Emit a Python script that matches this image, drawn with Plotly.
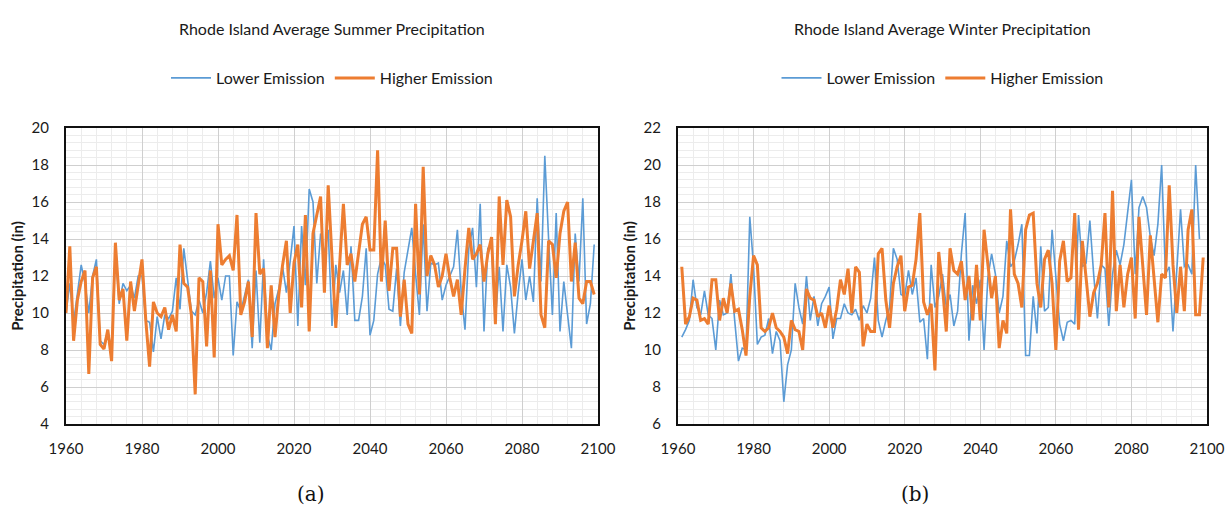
import plotly.graph_objects as go

# ---------------- data ----------------
summer_years = list(range(1960, 2100))
summer_lower = [
    10.0, 11.6, 9.5, 11.0, 12.6, 11.6, 10.0, 12.0, 12.9, 8.5,
    8.3, 9.0, 8.0, 13.4, 10.5, 11.6, 11.2, 11.5, 10.8, 12.0,
    12.0, 9.6, 9.5, 7.9, 9.8, 8.6, 9.9, 9.7, 10.1, 11.9,
    10.2, 13.5, 11.7, 10.1, 9.9, 10.7, 10.0, 11.1, 12.8, 10.8,
    11.9, 10.7, 12.0, 12.0, 7.7, 10.6, 10.1, 11.0, 11.8, 8.1,
    12.3, 8.4, 12.9, 8.8, 8.0, 10.5, 11.3, 12.5, 11.1, 12.8,
    14.7, 9.3, 14.7, 11.5, 16.7, 16.0, 11.6, 14.3, 13.2, 14.5,
    9.3, 12.6, 11.1, 12.3, 9.9, 13.6, 9.6, 9.6, 10.9, 13.5,
    8.8, 9.6, 12.1, 13.0, 12.6, 10.2, 10.1, 12.4, 9.3, 12.2,
    13.4, 14.6, 12.1, 9.9, 14.8, 10.1, 12.7, 12.6, 12.7, 10.7,
    11.5, 12.0, 12.5, 14.5, 11.1, 9.1, 13.5, 14.6, 11.4, 15.9,
    9.0, 13.5, 13.6, 9.6, 12.5, 9.0, 12.6, 11.4, 8.9, 11.1,
    12.9, 10.7, 12.0, 10.6, 16.2, 11.7, 18.5, 14.0, 9.9, 15.4,
    9.0, 11.7, 9.9, 8.1, 14.3, 11.7, 16.2, 9.4, 10.5, 13.7,
]
summer_higher = [
    10.0, 13.6, 8.5, 10.7, 11.7, 12.3, 6.7, 11.9, 12.5, 8.3,
    8.05, 9.1, 7.4, 13.8, 10.7, 11.3, 8.5, 11.7, 10.1, 11.4,
    12.9, 9.6, 7.1, 10.6, 10.0, 9.8, 10.3, 9.1, 9.9, 9.0,
    13.7, 11.6, 11.4, 9.9, 5.6, 11.9, 11.7, 8.2, 12.3, 7.6,
    14.8, 12.6, 12.9, 13.1, 12.3, 15.3, 9.9, 10.6, 11.7, 8.7,
    15.4, 12.1, 12.4, 8.1, 11.5, 8.7, 11.0, 12.6, 13.9, 10.0,
    12.7, 13.7, 10.3, 15.3, 9.0, 14.3, 15.3, 16.3, 11.1, 16.9,
    13.0, 9.2, 12.6, 15.9, 12.6, 13.2, 11.7, 13.3, 14.8, 15.2,
    13.4, 13.4, 18.8, 11.7, 15.0, 11.2, 13.5, 13.5, 9.8, 11.8,
    9.4, 8.9, 15.9, 11.0, 17.9, 12.0, 13.1, 12.6, 11.4, 12.0,
    13.2, 11.9, 10.9, 11.8, 9.9, 12.4, 14.6, 12.9, 13.2, 13.7,
    11.7, 13.2, 14.1, 9.4, 16.3, 12.6, 16.1, 15.2, 10.9, 12.6,
    13.9, 15.5, 12.4, 13.9, 15.4, 9.9, 9.2, 13.9, 13.7, 11.9,
    14.3, 15.5, 16.0, 11.7, 13.8, 10.8, 10.5, 11.7, 11.7, 11.0,
]

winter_years_lower = list(range(1961, 2099))
winter_lower = [
    10.7, 11.1, 11.6, 13.8, 12.3, 11.9, 13.2, 11.9, 11.7,
    10.0, 12.7, 11.9, 12.0, 14.1, 11.6, 9.4, 10.1, 10.0, 17.2,
    14.5, 10.3, 10.7, 10.8, 11.7, 9.8, 11.0, 10.5, 7.2, 9.2,
    10.0, 13.6, 12.3, 11.4, 14.0, 11.6, 12.9, 11.3, 12.5, 12.9,
    13.4, 10.6, 11.7, 11.7, 12.5, 12.0, 11.9, 12.2, 11.6, 12.4,
    12.0, 12.8, 15.0, 11.6, 10.7, 11.6, 12.3, 15.5, 14.9, 13.0,
    12.9, 14.3, 13.0, 13.9, 11.5, 11.7, 9.5, 14.6, 12.3, 12.9,
    14.1, 12.3, 13.0, 11.3, 12.1, 15.2, 17.4, 10.5, 13.5, 12.5,
    13.8, 10.0, 13.9, 15.2, 14.1, 12.0, 12.9, 15.9, 14.5, 14.8,
    15.7, 16.8, 9.7, 9.7, 12.9, 10.9, 15.6, 12.1, 12.3, 16.5,
    14.1, 11.4, 10.5, 11.5, 11.6, 11.4, 17.3, 14.5, 14.7, 17.0,
    14.1, 11.7, 14.6, 14.4, 11.3, 14.1, 15.4, 14.6, 15.7, 17.4,
    19.2, 14.1, 17.7, 18.3, 17.7, 16.1, 15.1, 16.8, 20.0, 14.1,
    14.5, 11.0, 14.5, 17.6, 14.5, 14.6, 14.1, 20.0, 16.0,
]
winter_years_higher = list(range(1961, 2100))
winter_higher = [
    14.5, 11.4, 11.8, 12.8, 12.7, 11.6, 11.7, 11.4, 13.8,
    13.8, 11.6, 12.8, 12.0, 13.6, 12.1, 12.2, 11.1, 9.7, 12.9,
    15.1, 14.6, 11.2, 11.0, 11.2, 12.0, 11.2, 11.0, 10.7, 9.8,
    11.6, 11.1, 11.0, 10.0, 13.3, 12.8, 12.7, 11.8, 12.0, 11.2,
    12.4, 11.2, 12.2, 13.8, 13.0, 14.4, 12.0, 14.5, 14.2, 10.2,
    11.4, 11.0, 11.0, 15.2, 15.5, 12.7, 11.2, 13.6, 14.5, 15.1,
    12.1, 13.4, 13.5, 14.9, 17.4, 12.6, 11.9, 12.5, 8.9, 15.3,
    13.4, 11.0, 15.5, 14.3, 14.1, 14.8, 12.7, 14.0, 11.6, 14.6,
    11.6, 16.5, 14.6, 12.8, 14.0, 10.1, 11.6, 10.9, 17.6, 14.1,
    13.6, 12.3, 16.5, 17.3, 17.4, 13.6, 12.3, 14.9, 15.4, 13.6,
    10.0, 14.8, 15.9, 13.7, 13.9, 17.4, 11.1, 15.9, 13.9, 11.8,
    13.1, 13.6, 14.6, 17.4, 12.3, 18.6, 12.1, 14.6, 12.3, 14.1,
    15.0, 11.7, 17.2, 14.3, 11.9, 16.2, 13.8, 11.5, 14.1, 13.9,
    18.9, 14.6, 12.0, 14.5, 12.1, 16.5, 17.6, 11.9, 11.9, 15.0,
]

x_ticks = [1960, 1980, 2000, 2020, 2040, 2060, 2080, 2100]
summer_y_ticks = [4, 6, 8, 10, 12, 14, 16, 18, 20]
winter_y_ticks = [6, 8, 10, 12, 14, 16, 18, 20, 22]
titles = ["Rhode Island Average Summer Precipitation",
          "Rhode Island Average Winter Precipitation"]
captions = ["(a)", "(b)"]
series_names = ["Lower Emission", "Higher Emission"]

# ---------------- styling ----------------
BLUE = "#5B9BD5"
ORANGE = "#ED7D31"
FONT = "Lato"
TXT = "#1a1a1a"

fig = go.Figure()

fig.add_trace(go.Scatter(x=summer_years, y=summer_lower, mode="lines", name=series_names[0],
                         line=dict(color=BLUE, width=1.6), xaxis="x", yaxis="y", legend="legend"))
fig.add_trace(go.Scatter(x=summer_years, y=summer_higher, mode="lines", name=series_names[1],
                         line=dict(color=ORANGE, width=3), xaxis="x", yaxis="y", legend="legend"))
fig.add_trace(go.Scatter(x=winter_years_lower, y=winter_lower, mode="lines", name=series_names[0],
                         line=dict(color=BLUE, width=1.6), xaxis="x2", yaxis="y2", legend="legend2"))
fig.add_trace(go.Scatter(x=winter_years_higher, y=winter_higher, mode="lines", name=series_names[1],
                         line=dict(color=ORANGE, width=3), xaxis="x2", yaxis="y2", legend="legend2"))

W, H = 1225, 510
def px_x(p): return p / W
def px_y(p): return 1 - p / H

xdom1 = [px_x(66), px_x(598)]
xdom2 = [px_x(678), px_x(1207)]
ydom = [px_y(424), px_y(128)]

def xaxis(domain, anchor):
    return dict(domain=domain, anchor=anchor, range=[1960, 2100], tickvals=x_ticks,
                showgrid=True, gridcolor="#cfcfcf", gridwidth=1,
                minor=dict(dtick=4, tick0=1960, showgrid=True, gridcolor="#ececec", gridwidth=1),
                showline=True, linecolor="#111111", linewidth=2, mirror=True,
                ticks="outside", ticklen=10, tickcolor="rgba(0,0,0,0)",
                tickfont=dict(family=FONT, size=15, color=TXT), zeroline=False, automargin=False)

def yaxis(domain, anchor, rng, ticks):
    return dict(domain=domain, anchor=anchor, range=rng, tickvals=ticks,
                showgrid=True, gridcolor="#cfcfcf", gridwidth=1,
                minor=dict(dtick=0.4, tick0=rng[0], showgrid=True, gridcolor="#ececec", gridwidth=1),
                showline=True, linecolor="#111111", linewidth=2, mirror=True,
                ticks="outside", ticklen=12, tickcolor="rgba(0,0,0,0)",
                tickfont=dict(family=FONT, size=15, color=TXT), zeroline=False, automargin=False,
                title=dict(text="<b>Precipitation (in)</b>", font=dict(family=FONT, size=15, color=TXT),
                           standoff=4))

annotations = []
for cx, t in [(0.5 * (66 + 598), titles[0]), (0.5 * (678 + 1207), titles[1])]:
    annotations.append(dict(text=t, x=px_x(cx), y=px_y(28), xref="paper", yref="paper",
                            showarrow=False, font=dict(family=FONT, size=16, color=TXT),
                            xanchor="center", yanchor="middle"))
for cx, c in [(311, captions[0]), (915, captions[1])]:
    annotations.append(dict(text=c, x=px_x(cx), y=px_y(494), xref="paper", yref="paper",
                            showarrow=False, font=dict(family="DejaVu Serif", size=20, color="#111111"),
                            xanchor="center", yanchor="middle"))

fig.update_layout(
    width=W, height=H,
    margin=dict(l=0, r=0, t=0, b=0, autoexpand=False),
    paper_bgcolor="white", plot_bgcolor="white",
    xaxis=xaxis(xdom1, "y"),
    yaxis=yaxis(ydom, "x", [4, 20], summer_y_ticks),
    xaxis2=xaxis(xdom2, "y2"),
    yaxis2=yaxis(ydom, "x2", [6, 22], winter_y_ticks),
    legend=dict(orientation="h", x=px_x(0.5 * (66 + 598)), y=px_y(78), xanchor="center", yanchor="middle",
                font=dict(family=FONT, size=16, color=TXT), bgcolor="rgba(0,0,0,0)", itemwidth=40),
    legend2=dict(orientation="h", x=px_x(0.5 * (678 + 1207)), y=px_y(78), xanchor="center", yanchor="middle",
                 font=dict(family=FONT, size=16, color=TXT), bgcolor="rgba(0,0,0,0)", itemwidth=40),
    annotations=annotations,
    showlegend=True,
)

fig.write_html("out.html", config={"displayModeBar": False},
               post_script="document.body.style.margin='0px';document.body.style.overflow='hidden';")
